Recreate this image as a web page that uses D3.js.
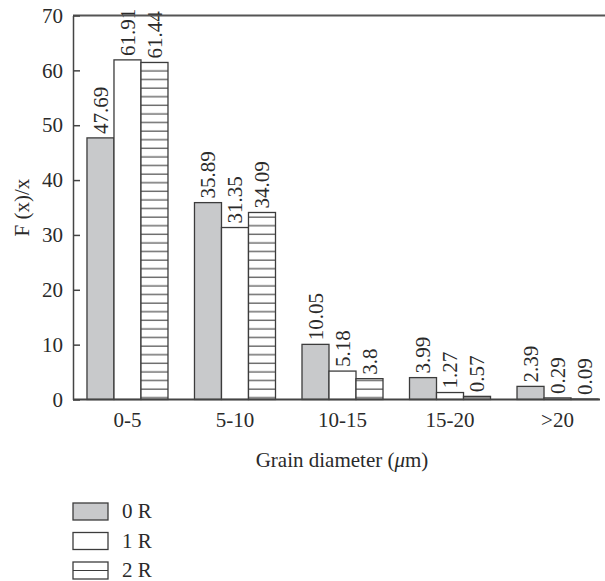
<!DOCTYPE html>
<html>
<head>
<meta charset="utf-8">
<script src="https://cdnjs.cloudflare.com/ajax/libs/d3/7.8.5/d3.min.js"></script>
<style>
  body { margin: 0; background: #fff; }
  svg text { font-family: "Liberation Serif", "DejaVu Serif", serif; fill: #2a2a2a; }
</style>
</head>
<body>
<svg id="chart" width="605" height="581"></svg>
<script>
// data
var categories = ["0-5", "5-10", "10-15", "15-20", ">20"];
var seriesNames = ["0 R", "1 R", "2 R"];
var values0R = [47.69, 35.89, 10.05, 3.99, 2.39];
var values1R = [61.91, 31.35, 5.18, 1.27, 0.29];
var values2R = [61.44, 34.09, 3.8, 0.57, 0.09];
var valueLabels0R = ["47.69", "35.89", "10.05", "3.99", "2.39"];
var valueLabels1R = ["61.91", "31.35", "5.18", "1.27", "0.29"];
var valueLabels2R = ["61.44", "34.09", "3.8", "0.57", "0.09"];
var yTicks = [0, 10, 20, 30, 40, 50, 60, 70];

var series = [
  {name: seriesNames[0], values: values0R, labels: valueLabels0R},
  {name: seriesNames[1], values: values1R, labels: valueLabels1R},
  {name: seriesNames[2], values: values2R, labels: valueLabels2R}
];

var svg = d3.select('#chart');
var fontSize = 21;
var stroke = '#3c3c3c';

// layout
var plot = {l: 73, t: 15.5, b: 399.5, r: 600};

var xScale = d3.scaleBand()
  .domain(categories)
  .range([plot.l, 612])
  .paddingInner(0.2465)
  .paddingOuter(0.13);

var xInner = d3.scaleBand()
  .domain(seriesNames)
  .range([0, xScale.bandwidth()]);

var yScale = d3.scaleLinear()
  .domain([0, 70])
  .range([plot.b, plot.t]);

// hatch pattern for 2 R
var hatchStep = 8.6;
var defs = svg.append('defs');
var pat = defs.append('pattern')
  .attr('id', 'hatch')
  .attr('patternUnits', 'userSpaceOnUse')
  .attr('width', 20)
  .attr('height', hatchStep);
pat.append('rect')
  .attr('width', 20).attr('height', hatchStep)
  .attr('fill', '#fff');
pat.append('line')
  .attr('x1', 0).attr('x2', 20)
  .attr('y1', 2.1).attr('y2', 2.1)
  .attr('stroke', stroke).attr('stroke-width', 1.1);

var fills = ['#c8c9cb', '#ffffff', 'url(#hatch)'];

// bars
var groups = svg.selectAll('.group')
  .data(categories)
  .enter().append('g')
  .attr('class', 'group')
  .attr('transform', function(d) { return 'translate(' + xScale(d) + ',0)'; });

series.forEach(function(s, si) {
  groups.append('rect')
    .attr('x', xInner(s.name))
    .attr('y', function(d, i) { return yScale(s.values[i]); })
    .attr('width', xInner.bandwidth())
    .attr('height', function(d, i) { return yScale(0) - yScale(s.values[i]); })
    .style('fill', fills[si])
    .style('stroke', stroke)
    .style('stroke-width', 1.3);

  groups.append('text')
    .attr('transform', function(d, i) {
      var cx = xInner(s.name) + xInner.bandwidth() / 2;
      return 'translate(' + [cx, yScale(s.values[i]) - 4] + ') rotate(-90)';
    })
    .attr('dy', '0.35em')
    .attr('font-size', fontSize)
    .text(function(d, i) { return s.labels[i]; });
});

// frame top line
svg.append('line')
  .attr('x1', plot.l).attr('x2', 605)
  .attr('y1', plot.t).attr('y2', plot.t)
  .attr('stroke', '#555').attr('stroke-width', 1.8);

// y axis
var yAxis = svg.append('g')
  .attr('transform', 'translate(' + plot.l + ',0)')
  .call(d3.axisLeft(yScale).tickValues(yTicks).tickSizeInner(-7).tickSizeOuter(0).tickPadding(10));
yAxis.selectAll('path, line').attr('stroke', '#444').attr('stroke-width', 1.5);
yAxis.selectAll('text').attr('font-size', fontSize).attr('font-family', null).attr('fill', null);

// x axis
var xAxis = svg.append('g')
  .attr('transform', 'translate(0,' + plot.b + ')')
  .call(d3.axisBottom(xScale).tickSize(0).tickPadding(13));
xAxis.select('.domain').remove();
xAxis.selectAll('text').attr('font-size', fontSize).attr('font-family', null).attr('fill', null);
svg.append('line')
  .attr('x1', plot.l).attr('x2', plot.r)
  .attr('y1', plot.b).attr('y2', plot.b)
  .attr('stroke', '#444').attr('stroke-width', 1.8);

// axis titles
svg.append('text')
  .attr('transform', 'translate(' + [29, (plot.t + plot.b) / 2] + ') rotate(-90)')
  .attr('text-anchor', 'middle')
  .attr('font-size', fontSize)
  .text('F (x)/x');

var xt = svg.append('text')
  .attr('x', 342).attr('y', 467)
  .attr('text-anchor', 'middle')
  .attr('font-size', fontSize);
xt.append('tspan').text('Grain diameter (');
xt.append('tspan').attr('font-style', 'italic').text('\u03bc');
xt.append('tspan').text('m)');

// legend
var legend = svg.selectAll('.legend')
  .data(series)
  .enter().append('g')
  .attr('class', 'legend')
  .attr('transform', function(d, i) { return 'translate(73,' + (503 + i * 29.5) + ')'; });

legend.append('rect')
  .attr('width', 35).attr('height', 17)
  .style('fill', function(d, i) { return i === 2 ? '#fff' : fills[i]; })
  .style('stroke', stroke)
  .style('stroke-width', 1.3);
legend.filter(function(d, i) { return i === 2; })
  .append('line')
  .attr('x1', 0).attr('x2', 35)
  .attr('y1', 8.5).attr('y2', 8.5)
  .attr('stroke', stroke).attr('stroke-width', 1.2);

legend.append('text')
  .attr('x', 49).attr('y', 15)
  .attr('font-size', fontSize)
  .text(function(d) { return d.name; });
</script>
</body>
</html>
